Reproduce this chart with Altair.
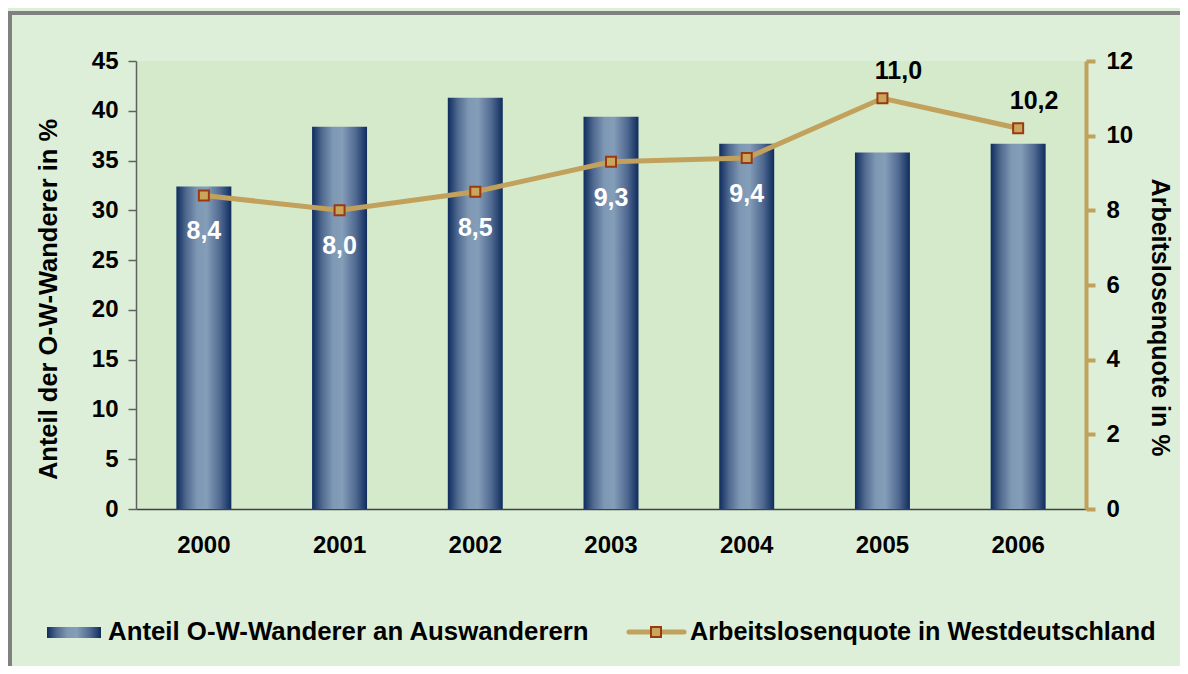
import altair as alt
import pandas as pd

years = ["2000", "2001", "2002", "2003", "2004", "2005", "2006"]
share = [32.4, 38.4, 41.3, 39.4, 36.7, 35.8, 36.7]
rate = [8.4, 8.0, 8.5, 9.3, 9.4, 11.0, 10.2]
rate_labels = ["8,4", "8,0", "8,5", "9,3", "9,4", "11,0", "10,2"]
left_ticks = [0, 5, 10, 15, 20, 25, 30, 35, 40, 45]
right_ticks = [0, 2, 4, 6, 8, 10, 12]
legend_labels = ["Anteil O-W-Wanderer an Auswanderern", "Arbeitslosenquote in Westdeutschland"]
y_titles = ["Anteil der O-W-Wanderer in %", "Arbeitslosenquote in %"]
above_years = ["2005", "2006"]

df = pd.DataFrame({"year": years, "share": share, "rate": rate, "label": rate_labels})

FONT = "Liberation Sans, Arial, Helvetica, sans-serif"
TAN = "#C1A15B"
MARK_FILL = "#C9A65E"
MARK_STROKE = "#9A3A0E"

stops = [
    alt.GradientStop(color="#0E2C5E", offset=0),
    alt.GradientStop(color="#50698F", offset=0.18),
    alt.GradientStop(color="#7E98B4", offset=0.38),
    alt.GradientStop(color="#849DB8", offset=0.55),
    alt.GradientStop(color="#4F6890", offset=0.8),
    alt.GradientStop(color="#0E2C5E", offset=1),
]
bar_grad = alt.Gradient(gradient="linear", x1=0, x2=1, y1=0, y2=0, stops=stops)

x_enc = alt.X(
    "year:N",
    sort=years,
    scale=alt.Scale(paddingInner=0.595, paddingOuter=0.2975),
    axis=alt.Axis(
        title=None, labelAngle=0, ticks=False, domainColor="#404040", domainWidth=1.5,
        labelFont=FONT, labelFontSize=24, labelFontWeight="bold", labelColor="black",
        labelPadding=24,
    ),
)

y_left = alt.Y(
    "share:Q",
    scale=alt.Scale(domain=[0, 45], nice=False),
    axis=alt.Axis(
        values=left_ticks, title=y_titles[0], grid=False, orient="left",
        domainColor="#606060", domainWidth=1.5, tickColor="#606060", tickWidth=1.5, tickSize=8,
        labelFont=FONT, labelFontSize=24, labelFontWeight="bold", labelColor="black", labelPadding=10,
        titleFont=FONT, titleFontSize=25.5, titleFontWeight="bold", titleColor="black", titlePadding=30,
        titleY=238,
    ),
)

y_right = alt.Y(
    "rate:Q",
    scale=alt.Scale(domain=[0, 12], nice=False),
    axis=alt.Axis(
        values=right_ticks, title=y_titles[1], grid=False, orient="right",
        domainColor=TAN, domainWidth=4, tickColor=TAN, tickWidth=4, tickSize=9,
        labelFont=FONT, labelFontSize=24, labelFontWeight="bold", labelColor="black", labelPadding=11,
        titleFont=FONT, titleFontSize=25, titleFontWeight="bold", titleColor="black", titlePadding=14,
        titleY=256,
    ),
)

base = alt.Chart(df)

bars = base.mark_bar(color=bar_grad).encode(x=x_enc, y=y_left)

line = base.mark_line(color=TAN, strokeWidth=5).encode(x=x_enc, y=y_right)
points = base.mark_point(shape="square", filled=True, size=100, fill=MARK_FILL,
                         stroke=MARK_STROKE, strokeWidth=2, opacity=1).encode(x=x_enc, y=y_right)
text_in = base.mark_text(font=FONT, fontSize=25, fontWeight="bold", color="white",
                         baseline="middle", dy=36).encode(
    x=x_enc, y=y_right, text="label:N"
).transform_filter(~alt.FieldOneOfPredicate(field="year", oneOf=above_years))
text_above = base.mark_text(font=FONT, fontSize=25, fontWeight="bold", color="black",
                            baseline="middle", dx=16, dy=-27).encode(
    x=x_enc, y=y_right, text="label:N"
).transform_filter(alt.FieldOneOfPredicate(field="year", oneOf=above_years))

right = alt.layer(line, points, text_in, text_above)

one = pd.DataFrame({"k": [0]})
border = alt.Chart(one).mark_rect(fillOpacity=0, stroke="#808080", strokeWidth=4).encode(
    x=alt.value(-126), x2=alt.value(1100), y=alt.value(-48), y2=alt.value(640)
)
leg_rect = alt.Chart(one).mark_rect(color=bar_grad).encode(
    x=alt.value(-89), x2=alt.value(-35), y=alt.value(566), y2=alt.value(577)
)
leg_text1 = alt.Chart(one).mark_text(font=FONT, fontSize=25.8, fontWeight="bold", color="black",
                                     align="left", baseline="middle").encode(
    x=alt.value(-28), y=alt.value(571), text=alt.value(legend_labels[0])
)
leg_line = alt.Chart(one).mark_rule(color=TAN, strokeWidth=5, strokeCap="round").encode(
    x=alt.value(493), x2=alt.value(548), y=alt.value(571)
)
leg_pt = alt.Chart(one).mark_point(shape="square", filled=True, size=100, fill=MARK_FILL,
                                   stroke=MARK_STROKE, strokeWidth=2, opacity=1).encode(
    x=alt.value(520), y=alt.value(571)
)
leg_text2 = alt.Chart(one).mark_text(font=FONT, fontSize=25.2, fontWeight="bold", color="black",
                                     align="left", baseline="middle").encode(
    x=alt.value(554), y=alt.value(571), text=alt.value(legend_labels[1])
)

chart = alt.layer(
    bars, right, border, leg_rect, leg_text1, leg_line, leg_pt, leg_text2
).resolve_scale(y="independent").properties(
    width=950, height=448,
    padding={"left": 128, "top": 53, "right": 94, "bottom": 157},
    autosize=alt.AutoSizeParams(type="none"),
).configure(background="#DDEFD8").configure_view(fill="#D5EACB", stroke=None)

chart.save("out.html", embed_options={"renderer": "svg", "actions": False})
